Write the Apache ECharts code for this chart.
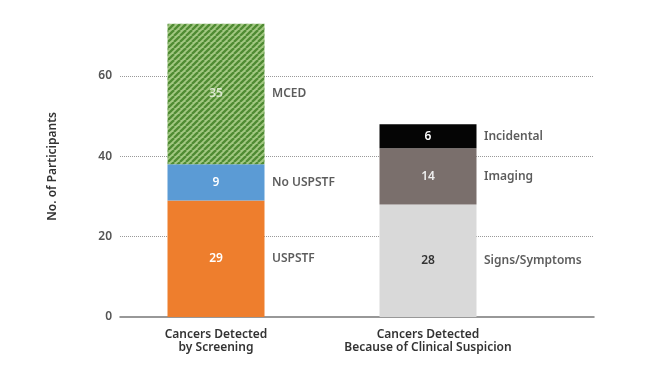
<!DOCTYPE html>
<html><head><meta charset="utf-8">
<script src="https://cdn.jsdelivr.net/npm/echarts@6/dist/echarts.min.js"></script>
<style>html,body{margin:0;padding:0;background:#fff}#c{width:648px;height:367px}</style>
</head><body><div id="c"></div>
<script>
const categories = ['Cancers Detected\nby Screening', 'Cancers Detected\nBecause of Clinical Suspicion'];
const screeningGroups = ['USPSTF', 'No USPSTF', 'MCED'];
const screeningValues = [29, 9, 35];
const clinicalGroups = ['Signs/Symptoms', 'Imaging', 'Incidental'];
const clinicalValues = [28, 14, 6];
const yTicks = [0, 20, 40, 60];

function stripes() {
  const c = document.createElement('canvas');
  c.width = 6; c.height = 6;
  const g = c.getContext('2d');
  g.fillStyle = '#a3c883'; g.fillRect(0, 0, 6, 6);
  g.strokeStyle = '#4f8b33'; g.lineWidth = 2.3;
  for (const k of [-6, 0, 6]) { g.beginPath(); g.moveTo(k, 6); g.lineTo(k + 6, 0); g.stroke(); }
  return c;
}
const segStyles = {
  'USPSTF': { color: '#ee7e2d', label: '#ffffff' },
  'No USPSTF': { color: '#5b9bd5', label: '#ffffff' },
  'MCED': { color: { image: stripes(), repeat: 'repeat' }, label: '#dde9d2' },
  'Signs/Symptoms': { color: '#d9d9d9', label: '#333333' },
  'Imaging': { color: '#7a6f6c', label: '#eeeeee' },
  'Incidental': { color: '#050505', label: '#ffffff' }
};
const font = '"Noto Sans", "Open Sans", sans-serif';
const series = [];
const nameLabels = [];
function addGroup(groups, values, ci) {
  let cum = 0;
  groups.forEach((g, i) => {
    const d = categories.map((c, j) => j === ci ? values[i] : '-');
    series.push({
      name: g, type: 'bar', stack: 'total', xAxisIndex: 1, yAxisIndex: 1,
      barWidth: 97, data: d,
      itemStyle: { color: segStyles[g].color },
      label: { show: true, position: 'inside', color: segStyles[g].label, fontSize: 12, fontWeight: 600, fontFamily: font },
      z: 2
    });
    nameLabels.push({ value: [categories[ci], cum + values[i] / 2], name: g });
    cum += values[i];
  });
}
addGroup(screeningGroups, screeningValues, 0);
addGroup(clinicalGroups, clinicalValues, 1);
series.push({
  type: 'scatter', xAxisIndex: 1, yAxisIndex: 1, symbolSize: 0, data: nameLabels,
  label: { show: true, position: 'right', distance: 56, formatter: p => p.name, color: '#333', fontSize: 12, fontWeight: 600, fontFamily: font },
  silent: true, z: 3
});

const chart = echarts.init(document.getElementById('c'));
chart.setOption({
  animation: false,
  grid: [
    { left: 120, right: 54, top: 15.75, bottom: 50 },
    { left: 110, right: 114, top: 15.75, bottom: 50 }
  ],
  xAxis: [
    { type: 'category', gridIndex: 0, data: [], axisLine: { lineStyle: { color: '#777', width: 1.5 } }, axisTick: { show: false }, axisLabel: { show: false } },
    { type: 'category', gridIndex: 1, data: categories, axisLine: { show: false }, axisTick: { show: false },
      axisLabel: { interval: 0, color: '#333', fontSize: 12, fontWeight: 600, fontFamily: font, margin: 11, lineHeight: 13 } }
  ],
  yAxis: [
    { type: 'value', gridIndex: 0, min: 0, max: 75, interval: 20,
      name: 'No. of Participants', nameLocation: 'middle', nameGap: 61,
      nameTextStyle: { color: '#333', fontSize: 12, fontWeight: 600, fontFamily: font },
      axisLine: { show: false }, axisTick: { show: false },
      axisLabel: { color: '#555', fontSize: 12, fontWeight: 600, fontFamily: font, margin: 8, showMaxLabel: false },
      splitLine: { show: true, showMinLine: false, showMaxLine: false, lineStyle: { color: '#999', type: 'dotted', width: 1 } } },
    { type: 'value', gridIndex: 1, min: 0, max: 75, show: false, splitLine: { show: false } }
  ],
  series: series
});
</script></body></html>
